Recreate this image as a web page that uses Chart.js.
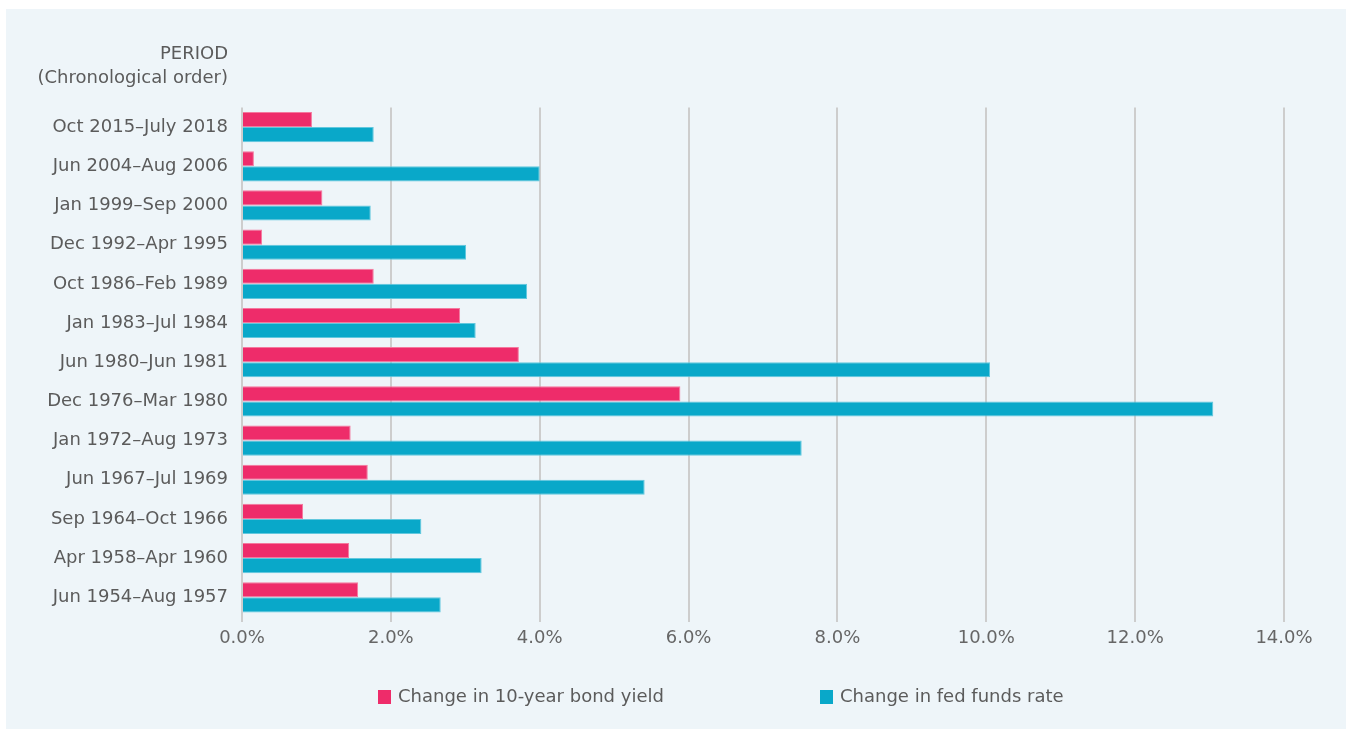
<!DOCTYPE html>
<html>
<head>
<meta charset="utf-8">
<script src="https://cdn.jsdelivr.net/npm/chart.js@4/dist/chart.umd.min.js"></script>
<style>
  html, body { margin: 0; padding: 0; background: #ffffff; overflow: hidden; }
  #panel { position: absolute; left: 6px; top: 9px; width: 1340px; height: 720px; background: #EEF5F9; }
  #chart { display: block; }
</style>
</head>
<body>
<div id="panel"><canvas id="chart" width="1340" height="720"></canvas></div>
<script>
// ---- data ----
const periods = [
  "Oct 2015\u2013July 2018",
  "Jun 2004\u2013Aug 2006",
  "Jan 1999\u2013Sep 2000",
  "Dec 1992\u2013Apr 1995",
  "Oct 1986\u2013Feb 1989",
  "Jan 1983\u2013Jul 1984",
  "Jun 1980\u2013Jun 1981",
  "Dec 1976\u2013Mar 1980",
  "Jan 1972\u2013Aug 1973",
  "Jun 1967\u2013Jul 1969",
  "Sep 1964\u2013Oct 1966",
  "Apr 1958\u2013Apr 1960",
  "Jun 1954\u2013Aug 1957"
];
const bondYieldChange = [0.94, 0.16, 1.08, 0.27, 1.77, 2.93, 3.72, 5.89, 1.46, 1.69, 0.82, 1.44, 1.56];
const fedFundsChange  = [1.77, 4.00, 1.73, 3.01, 3.83, 3.14, 10.05, 13.05, 7.52, 5.41, 2.41, 3.22, 2.67];
const seriesNames = ["Change in 10-year bond yield", "Change in fed funds rate"];
const axisTitleLines = ["PERIOD", "(Chronological order)"];
const xTickMax = 14;
const xTickStep = 2;

// ---- styles ----
const FONT = "'DejaVu Sans', sans-serif";
const TEXT = "#5b5b5b";
const PINK = "#EE2C6A", PINK_EDGE = "#F4799E";
const BLUE = "#09A8C9", BLUE_EDGE = "#62C8DE";

const headerPlugin = {
  id: "headerText",
  afterDraw(chart) {
    const ctx = chart.ctx;
    const y = chart.scales.y;
    const xr = y.right - 14;
    ctx.save();
    ctx.font = "18px " + FONT;
    ctx.fillStyle = TEXT;
    ctx.textAlign = "right";
    ctx.textBaseline = "middle";
    ctx.fillText(axisTitleLines[0], xr, 45);
    ctx.fillText(axisTitleLines[1], xr, 69);
    ctx.restore();
  }
};

const legendPlugin = {
  id: "customLegend",
  afterDraw(chart) {
    const ctx = chart.ctx;
    ctx.save();
    ctx.font = "18px " + FONT;
    ctx.textBaseline = "middle";
    ctx.textAlign = "left";
    const box = 13, gap = 7, itemStep = 442, cy = 688;
    const x0 = 372;
    chart.data.datasets.forEach((ds, i) => {
      const x = x0 + i * itemStep;
      ctx.fillStyle = ds.backgroundColor;
      ctx.fillRect(x, cy - 7, box, 14);
      ctx.fillStyle = TEXT;
      ctx.fillText(ds.label, x + box + gap, cy);
    });
    ctx.restore();
  }
};

new Chart(document.getElementById("chart"), {
  type: "bar",
  data: {
    labels: periods,
    datasets: [
      {
        label: seriesNames[0],
        data: bondYieldChange,
        backgroundColor: PINK,
        borderColor: PINK_EDGE,
        borderWidth: 1,
        barPercentage: 1.0,
        categoryPercentage: 0.771
      },
      {
        label: seriesNames[1],
        data: fedFundsChange,
        backgroundColor: BLUE,
        borderColor: BLUE_EDGE,
        borderWidth: 1,
        barPercentage: 1.0,
        categoryPercentage: 0.771
      }
    ]
  },
  options: {
    indexAxis: "y",
    responsive: false,
    animation: false,
    layout: { padding: { left: 0, right: 62, top: 98.5, bottom: 73.5 } },
    plugins: {
      legend: { display: false },
      tooltip: { enabled: false }
    },
    scales: {
      x: {
        min: 0,
        max: xTickMax,
        border: { display: false },
        grid: { color: "#CDCDCD", lineWidth: 2, drawTicks: true, tickLength: 5 },
        ticks: {
          stepSize: xTickStep,
          padding: 6,
          color: "#666666",
          font: { family: FONT, size: 18 },
          callback: (v) => Number(v).toFixed(1) + "%"
        }
      },
      y: {
        border: { display: false },
        grid: { display: false, drawTicks: false },
        ticks: {
          padding: 14,
          color: TEXT,
          font: { family: FONT, size: 18 }
        },
        afterFit(scale) { scale.width = 236; }
      }
    }
  },
  plugins: [headerPlugin, legendPlugin]
});
</script>
</body>
</html>
